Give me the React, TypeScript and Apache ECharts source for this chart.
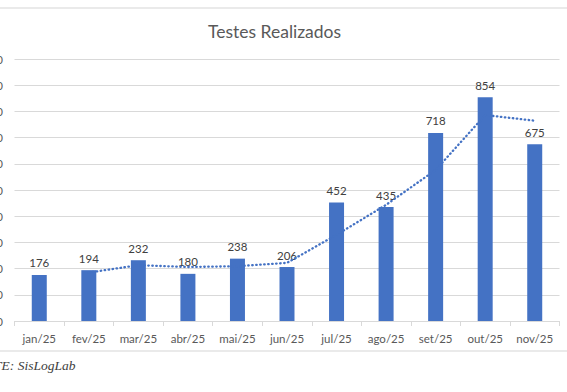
import React, { useEffect, useRef } from "react";
import * as echarts from "echarts";

const categories = ["jan/25", "fev/25", "mar/25", "abr/25", "mai/25", "jun/25", "jul/25", "ago/25", "set/25", "out/25", "nov/25"];
const testes = [176, 194, 232, 180, 238, 206, 452, 435, 718, 854, 675];
const mediaMovel = [null, 185, 213, 206, 209, 222, 329, 443.5, 576.5, 786, 764.5];
const yMin = 0;
const yMax = 1000;
const yInterval = 100;
const titleText = "Testes Realizados";
const footerText = "FONTE: SisLogLab";

const FONT = "Lato, 'Open Sans', sans-serif";

export default function App() {
  const ref = useRef<HTMLDivElement>(null);
  useEffect(() => {
    if (!ref.current) return;
    const chart = echarts.init(ref.current, undefined, { renderer: "svg" });
    chart.setOption({
      animation: false,
      backgroundColor: "#ffffff",
      title: {
        text: titleText,
        left: 203,
        top: 17,
        textStyle: { fontFamily: FONT, fontSize: 17.5, fontWeight: "normal", color: "#595959" },
      },
      grid: { left: 14.5, right: 7.5, top: 59, bottom: 71, containLabel: false, outerBoundsMode: "none" },
      xAxis: {
        type: "category",
        data: categories,
        boundaryGap: true,
        axisLine: { show: true, lineStyle: { color: "#D9D9D9", width: 1 } },
        axisTick: { show: true, alignWithLabel: false, length: 5, lineStyle: { color: "#D9D9D9" } },
        axisLabel: { interval: 0, fontFamily: FONT, fontSize: 11.5, color: "#595959", margin: 11 },
      },
      yAxis: {
        type: "value",
        min: yMin,
        max: yMax,
        interval: yInterval,
        axisLine: { show: false },
        axisTick: { show: false },
        axisLabel: {
          fontFamily: FONT,
          fontSize: 11.5,
          color: "#595959",
          margin: 11.5,
          formatter: (v: number) => String(v),
        },
        splitLine: { lineStyle: { color: "#D9D9D9", width: 1 } },
      },
      series: [
        {
          type: "bar",
          data: testes,
          barWidth: 15,
          itemStyle: { color: "#4472C4" },
          label: {
            show: true,
            position: "top",
            distance: 6,
            fontFamily: FONT,
            fontSize: 11.5,
            color: "#404040",
          },
          z: 2,
        },
        {
          type: "line",
          data: mediaMovel,
          symbol: "none",
          connectNulls: false,
          lineStyle: { color: "#4472C4", width: 2.3, type: [0.5, 3.5], cap: "round" },
          z: 3,
        },
      ],
      graphic: [
        { type: "line", shape: { x1: 0, y1: 8, x2: 567, y2: 8 }, style: { stroke: "#E3E3E3", lineWidth: 1.5 } },
        { type: "line", shape: { x1: 0, y1: 351, x2: 567, y2: 351 }, style: { stroke: "#E3E3E3", lineWidth: 1.5 } },
        {
          type: "text",
          x: -33,
          y: 358,
          style: {
            text: footerText,
            fontFamily: "'Liberation Serif', 'DejaVu Serif', serif",
            fontStyle: "italic",
            fontSize: 13.5,
            fill: "#404040",
          },
        },
      ],
    });
    return () => chart.dispose();
  }, []);
  return (
    <div
      ref={ref}
      style={{ position: "fixed", left: 0, top: 0, width: 567, height: 392, overflow: "hidden" }}
    />
  );
}
